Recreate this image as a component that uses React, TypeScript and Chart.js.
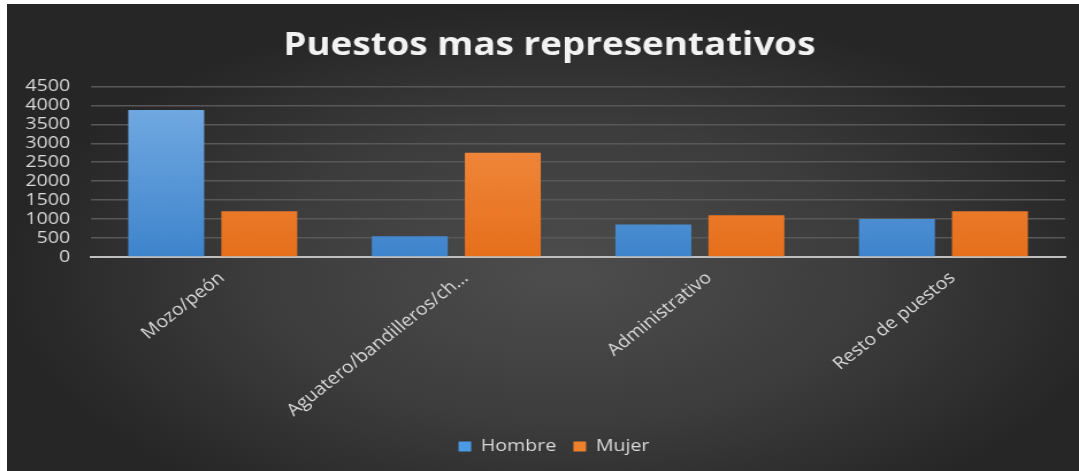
import React, { useEffect, useRef } from 'react';
import { Chart, registerables } from 'chart.js';

Chart.register(...registerables);

const categories = ['Mozo/peón', 'Aguatero/bandilleros/ch...', 'Administrativo', 'Resto de puestos'];
const hombre = [3880, 545, 860, 1000];
const mujer = [1210, 2750, 1100, 1210];
const seriesNames = ['Hombre', 'Mujer'];
const titleText = 'Puestos mas representativos';
const yMin = 0;
const yMax = 4500;
const yStep = 500;

const W = 932;
const H = 467;
const CSS_W = 1072;
const FONT = "'Open Sans', 'DejaVu Sans', sans-serif";

const blueStops = ['#78aee4', '#3e84cc'];
const orangeStops = ['#f5934c', '#e66f1b'];
const legendColors = ['#4a9ae6', '#f0812c'];

function gradientFill(stops: string[], fallback: string) {
  return (c: any) => {
    const chart = c.chart;
    const a = chart.chartArea;
    if (!a) return fallback;
    const g = chart.ctx.createLinearGradient(0, a.top, 0, a.bottom);
    g.addColorStop(0, stops[0]);
    g.addColorStop(1, stops[1]);
    return g;
  };
}

// nudges the centred title / legend boxes horizontally
const nudgeBoxes = {
  id: 'nudgeBoxes',
  afterLayout(chart: any) {
    if (chart.legend) {
      chart.legend.left += 8;
      chart.legend.right += 8;
    }
    if (chart.titleBlock) {
      chart.titleBlock.left += 4;
      chart.titleBlock.right += 4;
    }
  },
};

export default function App() {
  const ref = useRef<HTMLCanvasElement | null>(null);

  useEffect(() => {
    const canvas = ref.current;
    if (!canvas) return;
    const chart = new Chart(canvas, {
      type: 'bar',
      data: {
        labels: categories,
        datasets: [
          {
            label: seriesNames[0],
            data: hombre,
            backgroundColor: gradientFill(blueStops, '#5b9bd5'),
            borderWidth: 0,
            categoryPercentage: 0.764,
            barPercentage: 0.816,
          },
          {
            label: seriesNames[1],
            data: mujer,
            backgroundColor: gradientFill(orangeStops, '#ed7d31'),
            borderWidth: 0,
            categoryPercentage: 0.764,
            barPercentage: 0.816,
          },
        ],
      },
      plugins: [nudgeBoxes],
      options: {
        responsive: false,
        animation: false,
        devicePixelRatio: 1,
        layout: { padding: { left: 15, right: 12, top: 0, bottom: 6 } },
        plugins: {
          title: {
            display: true,
            text: titleText,
            color: '#f2f2f2',
            font: { family: FONT, size: 32, weight: 'bold' },
            padding: { top: 23, bottom: 21 },
          },
          legend: {
            position: 'bottom',
            labels: {
              color: '#d9d9d9',
              font: { family: FONT, size: 17 },
              boxWidth: 11,
              boxHeight: 10,
              padding: 15,
              generateLabels: (ch: any) => {
                const items = Chart.defaults.plugins.legend.labels.generateLabels(ch);
                items.forEach((it: any, i: number) => {
                  it.fillStyle = legendColors[i];
                  it.strokeStyle = legendColors[i];
                  it.lineWidth = 0;
                });
                return items;
              },
            },
          },
          tooltip: { enabled: false },
        },
        scales: {
          x: {
            grid: { display: false },
            border: { display: true, color: '#bfbfbf', width: 2 },
            ticks: {
              color: '#d9d9d9',
              font: { family: FONT, size: 17 },
              minRotation: 42,
              maxRotation: 42,
              padding: 3,
              labelOffset: 8,
              autoSkip: false,
            },
            afterFit: (s: any) => {
              s.height = 166;
            },
          },
          y: {
            min: yMin,
            max: yMax,
            afterFit: (s: any) => {
              s.width = 58;
            },
            ticks: {
              stepSize: yStep,
              autoSkip: false,
              color: '#d9d9d9',
              font: { family: FONT, size: 17 },
              padding: 18,
              callback: (v: any) => String(v),
            },
            grid: { color: '#585858', lineWidth: 1.5, drawTicks: false },
            border: { display: false },
          },
        },
      },
    } as any);
    return () => chart.destroy();
  }, []);

  return (
    <div
      style={{
        position: 'absolute',
        left: 7,
        top: 4,
        width: CSS_W,
        height: H,
        background:
          'radial-gradient(ellipse farthest-side at 52% 58%, #4d4d4d 0%, #3c3c3c 55%, #262626 100%)',
      }}
    >
      <canvas
        ref={ref}
        width={W}
        height={H}
        style={{ width: CSS_W, height: H, display: 'block' }}
      />
    </div>
  );
}
